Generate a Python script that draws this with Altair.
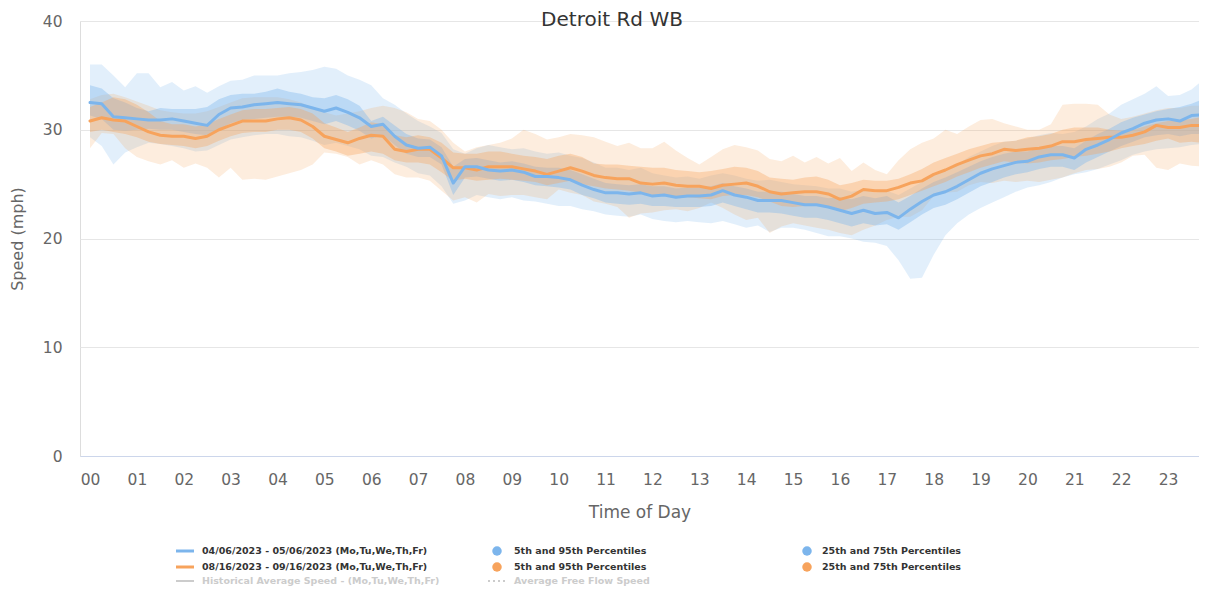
import altair as alt
import pandas as pd

# 15-minute time slots (hour of day)
hours = [i / 4 for i in range(96)]
hour_ticks = list(range(24))
y_ticks = [0, 10, 20, 30, 40]

# Series 1: 04/06/2023 - 05/06/2023
blue_med = [32.5, 32.4, 31.2, 31.1, 31.0, 30.9, 30.9, 31.0, 30.8, 30.6, 30.4, 31.4, 32.0, 32.1, 32.3, 32.4,
            32.5, 32.4, 32.3, 32.0, 31.7, 32.0, 31.6, 31.1, 30.3, 30.5, 29.4, 28.6, 28.3, 28.4, 27.6, 25.1,
            26.6, 26.6, 26.3, 26.2, 26.3, 26.1, 25.7, 25.7, 25.6, 25.4, 24.9, 24.5, 24.2, 24.2, 24.1, 24.2,
            23.9, 24.0, 23.8, 23.9, 23.9, 24.0, 24.4, 24.0, 23.8, 23.5, 23.5, 23.5, 23.3, 23.1, 23.1, 22.9,
            22.6, 22.3, 22.6, 22.3, 22.4, 21.9, 22.7, 23.4, 24.0, 24.3, 24.8, 25.4, 26.0, 26.4, 26.7, 27.0,
            27.1, 27.5, 27.7, 27.7, 27.4, 28.2, 28.6, 29.1, 29.7, 30.1, 30.6, 30.9, 31.0, 30.8, 31.3, 31.4]
blue_p75 = [34.1, 33.8, 32.9, 32.5, 32.0, 31.7, 32.0, 31.9, 31.9, 31.9, 32.1, 32.8, 33.2, 33.3, 33.3, 33.5,
            33.8, 33.5, 33.3, 33.0, 32.9, 33.2, 32.8, 32.2, 30.8, 31.2, 30.4, 29.6, 29.2, 29.1, 28.4, 26.6,
            27.3, 27.4, 27.2, 27.0, 27.1, 26.9, 26.6, 26.5, 26.5, 26.3, 25.9, 25.5, 25.1, 25.0, 24.9, 25.0,
            24.8, 24.8, 24.6, 24.7, 24.7, 24.8, 25.1, 24.8, 24.6, 24.3, 24.3, 24.3, 24.1, 23.9, 23.9, 23.7,
            23.8, 23.6, 23.9, 23.7, 23.9, 23.3, 23.9, 24.6, 25.2, 25.6, 26.1, 26.6, 27.1, 27.5, 27.8, 28.0,
            28.0, 28.3, 28.5, 28.5, 28.3, 29.0, 29.6, 30.1, 30.7, 31.1, 31.4, 31.7, 31.9, 32.1, 32.4, 32.8]
blue_p25 = [31.3, 31.0, 30.0, 29.9, 30.0, 30.1, 30.0, 30.0, 29.8, 29.6, 29.5, 30.0, 30.6, 30.9, 31.0, 31.1,
            31.2, 31.2, 31.1, 30.8, 30.5, 30.8, 30.4, 29.9, 29.2, 29.5, 28.6, 27.8, 27.5, 27.5, 26.8, 24.0,
            25.6, 25.7, 25.5, 25.3, 25.4, 25.2, 24.9, 24.8, 24.7, 24.5, 24.0, 23.7, 23.3, 23.2, 23.1, 23.2,
            23.0, 23.0, 22.9, 22.9, 22.9, 23.0, 23.3, 23.0, 22.7, 22.4, 22.4, 22.3, 22.1, 21.9, 21.9, 21.7,
            21.4, 21.1, 21.4, 21.2, 21.3, 20.8, 21.5, 22.2, 22.8, 23.1, 23.6, 24.2, 24.8, 25.2, 25.6, 25.9,
            26.1, 26.4, 26.6, 26.6, 26.3, 27.0, 27.5, 28.0, 28.5, 28.9, 29.3, 29.5, 29.6, 29.4, 29.6, 29.6]
blue_p95 = [36.0, 36.0, 35.0, 33.9, 35.2, 35.2, 33.9, 34.4, 33.6, 34.0, 33.4, 34.0, 34.5, 34.6, 35.0, 35.0,
            35.0, 35.2, 35.3, 35.5, 35.8, 35.6, 35.0, 34.6, 34.1, 32.9, 32.3, 31.5, 30.8, 30.3, 29.7, 28.2,
            27.8, 28.3, 28.6, 28.4, 28.2, 28.3, 28.0, 27.8, 27.9, 27.6, 27.4, 27.0, 26.5, 26.5, 26.3, 26.5,
            26.0, 25.8, 25.6, 25.7, 25.5, 25.8, 26.0, 25.8, 25.5, 25.3, 25.4, 25.2, 25.0, 24.9, 24.8, 24.6,
            24.6, 24.3, 24.5, 24.2, 24.4, 24.0, 24.6, 25.2, 25.8, 26.3, 26.8, 27.5, 28.0, 28.5, 28.9, 29.0,
            29.2, 29.5, 29.7, 29.6, 29.8, 30.3, 31.0, 31.5, 32.3, 32.8, 33.3, 34.0, 33.1, 33.2, 33.7, 34.6]
blue_p5 = [29.3, 28.5, 26.8, 27.9, 28.4, 28.8, 28.7, 28.5, 28.3, 28.0, 28.1, 28.6, 29.1, 29.3, 29.5, 29.6,
           29.6, 29.4, 29.3, 29.0, 28.6, 28.8, 28.5, 28.2, 27.6, 27.5, 27.0, 26.6, 26.0, 25.8, 24.8, 23.2,
           23.5, 24.0, 23.8, 23.6, 23.8, 23.5, 23.4, 23.2, 23.0, 23.0, 22.7, 22.5, 22.2, 22.1, 22.0, 22.2,
           21.8, 21.6, 21.5, 21.6, 21.5, 21.4, 21.6, 21.3, 21.0, 21.2, 20.6, 21.0, 21.0, 20.8, 20.5, 20.2,
           20.2, 20.0, 19.7, 19.6, 19.3, 18.0, 16.3, 16.4, 18.5, 20.3, 21.4, 22.2, 22.8, 23.3, 23.8, 24.3,
           24.7, 24.9, 25.2, 25.6, 25.9, 26.1, 26.4, 26.8, 27.2, 27.7, 28.0, 28.2, 28.3, 28.4, 28.6, 28.7]

# Series 2: 08/16/2023 - 09/16/2023
orange_med = [30.8, 31.1, 30.9, 30.8, 30.3, 29.8, 29.5, 29.4, 29.4, 29.2, 29.4, 30.0, 30.4, 30.8, 30.8, 30.8,
              31.0, 31.1, 30.9, 30.3, 29.4, 29.1, 28.8, 29.2, 29.5, 29.4, 28.2, 28.0, 28.2, 28.2, 27.4, 26.5,
              26.5, 26.3, 26.6, 26.6, 26.6, 26.4, 26.2, 25.9, 26.2, 26.5, 26.2, 25.8, 25.6, 25.5, 25.5, 25.1,
              25.0, 25.1, 24.9, 24.8, 24.8, 24.6, 24.9, 25.0, 25.1, 24.8, 24.3, 24.1, 24.2, 24.3, 24.3, 24.1,
              23.6, 23.9, 24.5, 24.4, 24.4, 24.7, 25.1, 25.3, 25.9, 26.3, 26.8, 27.2, 27.6, 27.8, 28.2, 28.1,
              28.2, 28.3, 28.5, 28.9, 28.9, 29.1, 29.2, 29.3, 29.3, 29.5, 29.8, 30.4, 30.2, 30.2, 30.4, 30.4]
orange_p75 = [32.1, 32.5, 33.0, 32.8, 32.3, 31.6, 30.8, 30.5, 30.5, 30.3, 30.5, 31.0, 31.4, 31.8, 31.9, 31.9,
              32.0, 32.1, 31.9, 31.5, 30.6, 30.2, 29.8, 30.2, 30.7, 30.5, 29.5, 29.3, 29.5, 29.3, 28.8, 27.9,
              27.8, 27.8, 28.0, 28.0, 27.8, 27.6, 27.5, 27.3, 27.6, 27.8, 27.5, 26.9, 26.8, 26.8, 26.7, 26.6,
              26.5, 26.5, 26.3, 26.2, 26.1, 26.2, 26.4, 26.6, 26.5, 26.2, 25.6, 25.5, 25.4, 25.6, 25.7, 25.4,
              24.9, 25.1, 25.4, 25.3, 25.3, 25.5, 25.9, 26.4, 27.0, 27.4, 27.8, 28.2, 28.5, 28.8, 28.9, 29.0,
              29.3, 29.4, 29.6, 30.0, 30.2, 30.2, 30.2, 30.0, 29.9, 30.0, 30.3, 30.6, 30.8, 30.9, 31.0, 31.2]
orange_p25 = [29.8, 30.0, 29.8, 29.6, 29.3, 28.9, 28.7, 28.6, 28.5, 28.3, 28.5, 29.0, 29.4, 29.7, 29.8, 29.8,
              30.0, 30.0, 29.8, 29.2, 28.3, 28.0, 27.6, 27.8, 28.0, 27.8, 27.2, 27.0, 27.0, 26.8, 26.1, 25.3,
              25.5, 25.3, 25.4, 25.5, 25.4, 25.3, 25.2, 24.9, 25.1, 25.3, 25.0, 24.8, 24.6, 24.5, 24.4, 24.2,
              24.0, 23.9, 23.8, 23.8, 23.7, 23.6, 23.9, 24.0, 24.0, 23.8, 23.4, 23.0, 22.9, 23.0, 23.2, 22.9,
              22.5, 22.8, 23.2, 23.3, 23.4, 23.6, 24.0, 24.4, 24.8, 25.2, 25.7, 26.1, 26.5, 26.8, 27.1, 27.0,
              26.9, 27.0, 27.2, 27.3, 27.5, 27.6, 27.8, 28.0, 28.3, 28.5, 28.7, 29.0, 29.2, 28.8, 28.9, 28.8]
orange_p95 = [32.8, 33.2, 33.3, 33.0, 32.6, 32.2, 31.8, 31.6, 31.5, 31.5, 31.7, 32.1, 32.5, 32.9, 33.0, 33.0,
              33.0, 32.8, 32.5, 32.0, 31.6, 31.3, 31.5, 31.7, 32.0, 32.2, 32.0, 31.6, 31.0, 30.8, 30.0, 28.8,
              28.0, 28.4, 28.6, 28.8, 29.2, 30.0, 29.6, 29.1, 29.3, 29.6, 29.5, 29.3, 28.9, 28.5, 28.8, 28.3,
              28.3, 28.9, 28.1, 27.4, 26.8, 27.5, 28.2, 28.6, 28.4, 28.1, 27.3, 27.1, 27.6, 27.0, 27.5, 26.9,
              27.4, 26.2, 27.0, 26.3, 25.9, 27.2, 28.2, 28.8, 29.2, 30.0, 29.6, 30.3, 30.9, 31.0, 30.6, 30.3,
              30.0, 30.0, 30.5, 32.3, 32.4, 32.4, 32.3, 31.4, 31.0, 31.2, 31.5, 31.8, 32.0, 32.0, 32.2, 32.2]
orange_p5 = [28.3, 29.7, 29.6, 28.3, 27.5, 27.1, 26.8, 27.2, 26.5, 26.9, 26.5, 25.6, 26.5, 25.4, 25.5, 25.4,
             25.7, 26.0, 26.3, 26.8, 27.9, 27.8, 27.5, 26.8, 27.2, 26.8, 25.9, 25.6, 25.6, 25.3, 24.4, 23.5,
             23.8, 23.3, 24.1, 23.9, 24.0, 24.0, 23.8, 23.6, 24.5, 24.2, 24.0, 23.4, 23.2, 22.9, 21.9, 22.3,
             22.4, 22.6, 22.7, 22.5, 22.8, 23.3, 22.8, 22.2, 21.7, 21.9, 20.5, 21.1, 21.4, 21.2, 21.0, 20.8,
             20.5, 20.3, 20.8, 21.2, 21.7, 22.0, 22.0, 22.6, 23.9, 24.2, 24.3, 24.9, 25.2, 25.1, 25.3, 25.2,
             25.3, 25.2, 25.4, 25.6, 26.0, 26.3, 26.4, 26.6, 27.0, 27.6, 27.7, 26.5, 26.3, 26.9, 26.7, 26.6]

series_names = ["04/06/2023 - 05/06/2023 (Mo,Tu,We,Th,Fr)", "08/16/2023 - 09/16/2023 (Mo,Tu,We,Th,Fr)"]
series_colors = ["#7cb5ec", "#f7a35c"]
line_colors = ["#6eaae8", "#f5a058"]

legend_col1 = series_names + ["Historical Average Speed - (Mo,Tu,We,Th,Fr)"]
legend_col2 = ["5th and 95th Percentiles", "5th and 95th Percentiles", "Average Free Flow Speed"]
legend_col3 = ["25th and 75th Percentiles", "25th and 75th Percentiles"]

title_text = "Detroit Rd WB"

frames = []
for name, (p5, p25, med, p75, p95) in zip(series_names, [
        (blue_p5, blue_p25, blue_med, blue_p75, blue_p95),
        (orange_p5, orange_p25, orange_med, orange_p75, orange_p95)]):
    frames.append(pd.DataFrame({"hour": hours, "series": name, "p5": p5, "p25": p25,
                                "med": med, "p75": p75, "p95": p95}))
df = pd.concat(frames, ignore_index=True)

W, H = 1119, 435
FONT = "DejaVu Sans"

xscale = alt.Scale(domain=[-0.2134, 23.66], nice=False, zero=False)
yscale = alt.Scale(domain=[0, 40], nice=False)
cscale = alt.Scale(domain=series_names, range=series_colors)
lscale = alt.Scale(domain=series_names, range=line_colors)

x_enc = alt.X("hour:Q", scale=xscale, axis=alt.Axis(
    values=hour_ticks, labelExpr="datum.value < 10 ? '0' + datum.value : '' + datum.value",
    title="Time of Day", grid=False, ticks=False, domainColor="#ccd6eb", domainWidth=1,
    labelPadding=16, labelFontSize=15.5, labelColor="#666666", labelFont=FONT,
    titleFont=FONT, titleFontSize=17, titleColor="#666666", titleFontWeight="normal",
    titlePadding=17, labelFlush=False))

y_axis = alt.Axis(values=y_ticks, title="Speed (mph)", grid=True, gridColor="#e6e6e6",
                  domain=False, ticks=False, labelPadding=18, labelFontSize=15.5,
                  labelColor="#666666", labelFont=FONT, titleFont=FONT, titleFontSize=16,
                  titleColor="#666666", titleFontWeight="normal", titleX=-63, titleY=H / 2,
                  titleBaseline="middle", titleAngle=-90, titleAlign="center")

base = alt.Chart(df)

outer = base.transform_filter(alt.datum.series == series_names[0]).mark_area(
    opacity=0.22, interpolate="linear").encode(
    x=x_enc, y=alt.Y("p5:Q", scale=yscale, axis=y_axis), y2="p95:Q",
    color=alt.Color("series:N", scale=cscale, legend=None))
outer2 = base.transform_filter(alt.datum.series == series_names[1]).mark_area(
    opacity=0.2, interpolate="linear").encode(
    x="hour:Q", y="p5:Q", y2="p95:Q",
    color=alt.Color("series:N", scale=cscale, legend=None))
inner = base.transform_filter(alt.datum.series == series_names[0]).mark_area(
    opacity=0.38, interpolate="linear").encode(
    x="hour:Q", y="p25:Q", y2="p75:Q",
    color=alt.Color("series:N", scale=cscale, legend=None))
inner2 = base.transform_filter(alt.datum.series == series_names[1]).mark_area(
    opacity=0.35, interpolate="linear").encode(
    x="hour:Q", y="p25:Q", y2="p75:Q",
    color=alt.Color("series:N", scale=cscale, legend=None))
line_o = base.transform_filter(alt.datum.series == series_names[1]).mark_line(
    strokeWidth=3, strokeJoin="round", strokeCap="round").encode(
    x="hour:Q", y="med:Q", color=alt.Color("series:N", scale=lscale, legend=None))
line_b = base.transform_filter(alt.datum.series == series_names[0]).mark_line(
    strokeWidth=3, strokeJoin="round", strokeCap="round").encode(
    x="hour:Q", y="med:Q", color=alt.Color("series:N", scale=lscale, legend=None))

one = pd.DataFrame({"k": [0]})
layers = [outer, outer2, inner, inner2, line_o, line_b]

# title
layers.append(alt.Chart(one).mark_text(text=title_text, font=FONT, fontSize=20, color="#333333",
                                       align="center", baseline="middle").encode(
    x=alt.value(532), y=alt.value(-1.5)))

# custom legend
row_y = [530, 546, 560]
col_text_x = [122, 434, 742]
leg_font = dict(font=FONT, fontSize=9.5, fontWeight="bold", align="left", baseline="middle")
for i, lab in enumerate(legend_col1):
    col = series_colors[i] if i < 2 else "#cccccc"
    tcol = "#333333" if i < 2 else "#cccccc"
    layers.append(alt.Chart(one).mark_rule(color=col, strokeWidth=3 if i < 2 else 2).encode(
        x=alt.value(96), x2=alt.value(114), y=alt.value(row_y[i])))
    layers.append(alt.Chart(one).mark_text(text=lab, color=tcol, **leg_font).encode(
        x=alt.value(col_text_x[0]), y=alt.value(row_y[i])))
for i, lab in enumerate(legend_col2):
    tcol = "#333333" if i < 2 else "#cccccc"
    if i < 2:
        layers.append(alt.Chart(one).mark_point(filled=True, shape="circle", size=90, opacity=1,
                                                color=series_colors[i]).encode(
            x=alt.value(417), y=alt.value(row_y[i])))
    else:
        layers.append(alt.Chart(one).mark_rule(color="#cccccc", strokeWidth=2, strokeDash=[2, 3]).encode(
            x=alt.value(408), x2=alt.value(426), y=alt.value(row_y[i])))
    layers.append(alt.Chart(one).mark_text(text=lab, color=tcol, **leg_font).encode(
        x=alt.value(col_text_x[1]), y=alt.value(row_y[i])))
for i, lab in enumerate(legend_col3):
    layers.append(alt.Chart(one).mark_point(filled=True, shape="circle", size=90, opacity=1,
                                            color=series_colors[i]).encode(
        x=alt.value(727), y=alt.value(row_y[i])))
    layers.append(alt.Chart(one).mark_text(text=lab, color="#333333", **leg_font).encode(
        x=alt.value(col_text_x[2]), y=alt.value(row_y[i])))

chart = alt.layer(*layers).properties(
    width=W, height=H,
    padding={"left": 72, "top": 13, "right": 0, "bottom": 130},
    autosize=alt.AutoSizeParams(type="none"),
).configure_view(stroke=None).configure(background="white")

chart.save("out.html", embed_options={"renderer": "svg", "actions": False})
